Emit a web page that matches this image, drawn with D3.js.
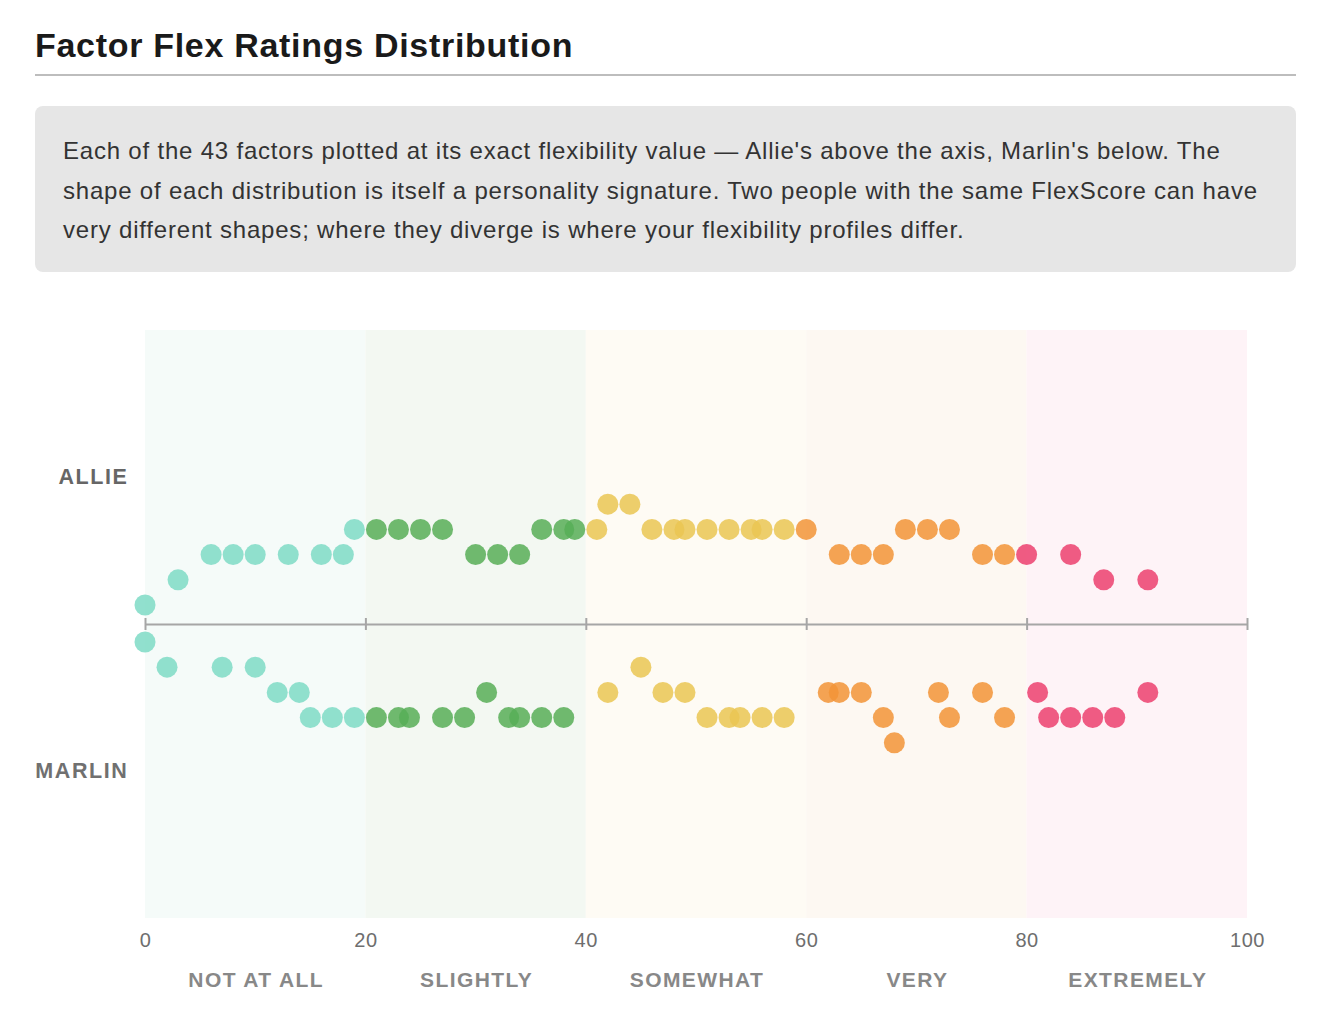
<!DOCTYPE html>
<html>
<head>
<meta charset="utf-8">
<script src="https://cdn.jsdelivr.net/npm/d3@7"></script>
<style>
  html, body { margin: 0; padding: 0; background: #fff; }
  body { font-family: "Liberation Sans", Arial, Helvetica, sans-serif; width: 1330px; height: 1030px; overflow: hidden; }
  #wrap { position: absolute; left: 35px; top: 0; width: 1261px; }
  h1 { margin: 0; position: absolute; top: 25px; left: 0; font-size: 34px; line-height: 40px; font-weight: bold; color: #1a1a1a; letter-spacing: 0.7px; white-space: nowrap; }
  #rule { position: absolute; top: 74px; left: 0; width: 1261px; height: 2px; background: #bdbdbd; }
  #desc { position: absolute; top: 106px; left: 0; width: 1261px; height: 166px; background: #e6e6e6; border-radius: 8px; box-sizing: border-box; padding: 25px 28px; font-size: 24px; line-height: 39.5px; letter-spacing: 0.8px; color: #333; white-space: nowrap; }
  svg { position: absolute; left: 35px; top: 290px; }
</style>
</head>
<body>
<div id="wrap">
  <h1>Factor Flex Ratings Distribution</h1>
  <div id="rule"></div>
  <div id="desc"></div>
</div>
<svg id="chart" width="1261" height="740"></svg>
<script>
// ---- data ----
const descLines = [
  "Each of the 43 factors plotted at its exact flexibility value \u2014 Allie's above the axis, Marlin's below. The",
  "shape of each distribution is itself a personality signature. Two people with the same FlexScore can have",
  "very different shapes; where they diverge is where your flexibility profiles differ."
];
const people = ["ALLIE", "MARLIN"];
const allieValues = [0, 3, 6, 8, 10, 13, 16, 18, 19, 21, 23, 25, 27, 30, 32, 34, 36, 38, 39,
  41, 42, 44, 46, 48, 49, 51, 53, 55, 56, 58, 60, 63, 65, 67, 69, 71, 73, 76, 78, 80, 84, 87, 91];
const allieLevels = [0, 1, 2, 2, 2, 2, 2, 2, 3, 3, 3, 3, 3, 2, 2, 2, 3, 3, 3,
  3, 4, 4, 3, 3, 3, 3, 3, 3, 3, 3, 3, 2, 2, 2, 3, 3, 3, 2, 2, 2, 2, 1, 1];
const marlinValues = [0, 2, 7, 10, 12, 14, 15, 17, 19, 21, 23, 24, 27, 29, 31, 33, 34, 36, 38,
  42, 45, 47, 49, 51, 53, 54, 56, 58, 62, 63, 65, 67, 68, 72, 73, 76, 78, 81, 82, 84, 86, 88, 91];
const marlinLevels = [0, 1, 1, 1, 2, 2, 3, 3, 3, 3, 3, 3, 3, 3, 2, 3, 3, 3, 3,
  2, 1, 2, 2, 3, 3, 3, 3, 3, 2, 2, 2, 3, 4, 2, 3, 2, 3, 2, 3, 3, 3, 3, 2];
const bandNames = ["NOT AT ALL", "SLIGHTLY", "SOMEWHAT", "VERY", "EXTREMELY"];
const bandStarts = [0, 20, 40, 60, 80];
const tickValues = [0, 20, 40, 60, 80, 100];

// ---- styles ----
const bandFill = ["#f5fbf9", "#f3f8f2", "#fefbf4", "#fdf8f2", "#fef3f7"];
const dotColor = ["#7edbc6", "#57ae57", "#eac552", "#f29437", "#ec3f6f"];

d3.select("#desc").html(descLines.join("<br>"));

const svg = d3.select("#chart");
const x = d3.scaleLinear().domain([0, 100]).range([110, 1212]);
const axisY = 334;
const yUp = d3.scaleLinear().domain([0, 4]).range([axisY - 19, axisY - 19 - 4 * 25.2]);
const yDown = d3.scaleLinear().domain([0, 4]).range([axisY + 18, axisY + 18 + 4 * 25.2]);
const bandOf = v => Math.min(4, Math.floor(v / 20));

// bands
svg.append("g").selectAll("rect").data(bandStarts).join("rect")
  .attr("x", d => x(d))
  .attr("width", d => x(d + 20) - x(d))
  .attr("y", 40)
  .attr("height", 588)
  .attr("fill", (d, i) => bandFill[i]);

// axis
const axis = d3.axisBottom(x).tickValues(tickValues).tickSize(0).tickFormat("");
const ag = svg.append("g").attr("transform", `translate(0,${axisY})`).call(axis);
ag.select(".domain").attr("stroke", "#a6a6a6").attr("stroke-width", 2);
ag.selectAll(".tick").append("line").attr("y1", -6).attr("y2", 6).attr("stroke", "#a6a6a6").attr("stroke-width", 2);

// tick labels along bottom
const tl = d3.axisBottom(x).tickValues(tickValues).tickSize(0).tickPadding(0);
const tg = svg.append("g").attr("transform", `translate(0,${643})`).call(tl);
tg.select(".domain").remove();
tg.selectAll("text").attr("font-family", "Liberation Sans, Arial, sans-serif")
  .attr("font-size", 20).attr("letter-spacing", "0.6px").attr("fill", "#6e6e6e").attr("dy", "0.71em");

// category labels
svg.append("g").selectAll("text").data(bandStarts).join("text")
  .attr("x", d => x(d + 10) + 1)
  .attr("y", 697)
  .attr("text-anchor", "middle")
  .attr("font-size", 21).attr("font-weight", "bold")
  .attr("letter-spacing", "1.4px")
  .attr("fill", "#888")
  .text((d, i) => bandNames[i]);

// person labels
svg.append("g").selectAll("text").data(people).join("text")
  .attr("x", 93.5)
  .attr("y", (d, i) => i === 0 ? axisY - 140 : axisY + 154)
  .attr("text-anchor", "end")
  .attr("font-size", 21.5).attr("font-weight", "bold")
  .attr("letter-spacing", "1.6px")
  .attr("fill", (d, i) => i === 0 ? "#666" : "#707070")
  .text(d => d);

// dots
function drawDots(values, levels, yScale) {
  svg.append("g").selectAll("circle").data(values).join("circle")
    .attr("cx", d => x(d))
    .attr("cy", (d, i) => yScale(levels[i]))
    .attr("r", 10.5)
    .attr("fill", d => dotColor[bandOf(d)])
    .attr("fill-opacity", 0.85);
}
drawDots(allieValues, allieLevels, yUp);
drawDots(marlinValues, marlinLevels, yDown);
</script>
</body>
</html>
